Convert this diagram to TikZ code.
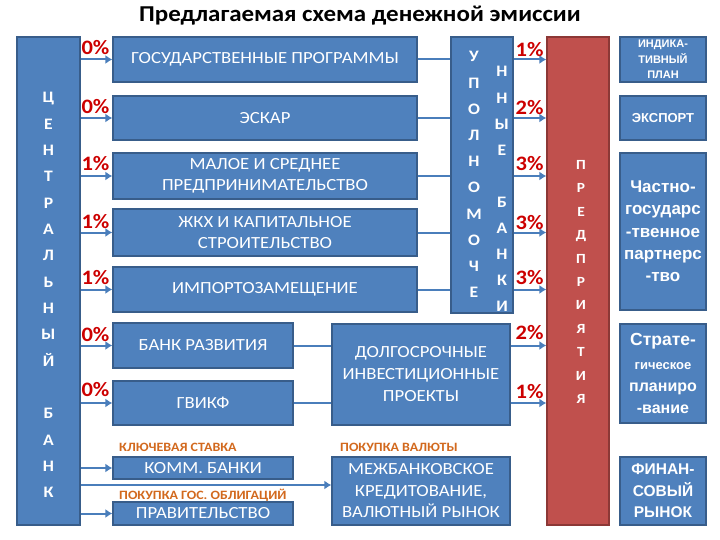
\documentclass[tikz,border=0pt]{standalone}
\usepackage{fontspec}
\setmainfont{Carlito}[FakeStretch=1.1]
\newfontfamily\arialfont{Liberation Sans}
\usetikzlibrary{arrows.meta}
\definecolor{boxblue}{HTML}{4F81BD}
\definecolor{boxborder}{HTML}{385D8A}
\definecolor{entred}{HTML}{C0504D}
\definecolor{entborder}{HTML}{8C3836}
\definecolor{arrowblue}{HTML}{4A7EBB}
\definecolor{pctred}{HTML}{CC0000}
\definecolor{tagorange}{HTML}{D2691E}
\tikzset{
  bluebox/.style={draw=boxborder, fill=boxblue, line width=1.2pt, inner sep=0pt,
    text=white, align=center, font=\fontsize{17}{21}\selectfont},
  rightbox/.style={bluebox, font=\arialfont\bfseries\fontsize{17}{22}\selectfont},
  redbox/.style={draw=entborder, fill=entred, line width=1.2pt, inner sep=0pt},
  letter/.style={text=white, font=\bfseries\fontsize{16}{16}\selectfont, inner sep=0pt, anchor=base},
  redletter/.style={text=white, font=\bfseries\fontsize{14}{14}\selectfont, inner sep=0pt, anchor=base},
  pct/.style={text=pctred, font=\bfseries\fontsize{20.5}{20.5}\selectfont, inner sep=0pt},
  tag/.style={text=tagorange, font=\bfseries\fontsize{12.7}{12.7}\selectfont, inner sep=0pt, anchor=west},
  flow/.style={draw=arrowblue, line width=2pt, -{Latex[length=7pt,width=9pt]}},
  link/.style={draw=arrowblue, line width=2pt}
}
\begin{document}
\begin{tikzpicture}[x=1pt, y=-1pt]
\useasboundingbox (0,0) rectangle (720,540);
% title
\node[font=\bfseries\fontsize{22.7}{22.7}\selectfont, anchor=base, inner sep=0pt] (title) at (360,22) {Предлагаемая схема денежной эмиссии};
% central bank
\node[bluebox, minimum width=63pt, minimum height=488pt] (cb) at (48.5,281) {};
\foreach \c [count=\i] in {Ц,Е,Н,Т,Р,А,Л,Ь,Н,Ы,Й}
  \node[letter] (cbl\i) at (48.5,{98+(\i-1)*26.33+5}) {\c};
\foreach \c [count=\i from 13] in {Б,А,Н,К}
  \node[letter] (cbl\i) at (48.5,{98+(\i-1)*26.33+5}) {\c};
% middle boxes
\node[bluebox, minimum width=304pt, minimum height=45pt] (gp) at (265,59.5) {ГОСУДАРСТВЕННЫЕ ПРОГРАММЫ};
\node[bluebox, minimum width=304pt, minimum height=44pt] (esk) at (265,118) {ЭСКАР};
\node[bluebox, minimum width=304pt, minimum height=46pt] (msp) at (265,176) {МАЛОЕ И СРЕДНЕЕ\\ПРЕДПРИНИМАТЕЛЬСТВО};
\node[bluebox, minimum width=304pt, minimum height=47pt] (zhkh) at (265,232.5) {ЖКХ И КАПИТАЛЬНОЕ\\СТРОИТЕЛЬСТВО};
\node[bluebox, minimum width=304pt, minimum height=45pt] (imp) at (265,289.5) {ИМПОРТОЗАМЕЩЕНИЕ};
\node[bluebox, minimum width=180pt, minimum height=45pt] (br) at (203,345.5) {БАНК РАЗВИТИЯ};
\node[bluebox, minimum width=180pt, minimum height=44pt] (gv) at (203,403) {ГВИКФ};
\node[bluebox, minimum width=180pt, minimum height=22pt] (komm) at (203,468) {КОММ. БАНКИ};
\node[bluebox, minimum width=180pt, minimum height=23pt] (prav) at (203,513.5) {ПРАВИТЕЛЬСТВО};
\node[tag] (t1) at (119,447) {КЛЮЧЕВАЯ СТАВКА};
\node[tag] (t2) at (119,495) {ПОКУПКА ГОС. ОБЛИГАЦИЙ};
\node[tag] (t3) at (340,447) {ПОКУПКА ВАЛЮТЫ};
% authorised banks
\node[bluebox, minimum width=62pt, minimum height=276pt] (up) at (482,175) {};
\foreach \c [count=\i] in {У,П,О,Л,Н,О,М,О,Ч,Е}
  \node[letter] (upl\i) at (474,{57+(\i-1)*26.2+5}) {\c};
\foreach \c [count=\i] in {Н,Н,Ы,Е}
  \node[letter] (upr\i) at (502,{72+(\i-1)*26.1+5}) {\c};
\foreach \c [count=\i from 6] in {Б,А,Н,К,И}
  \node[letter] (upr\i) at (502,{72+(\i-1)*26.1+5}) {\c};
% long-term projects and interbank
\node[bluebox, minimum width=178pt, minimum height=101pt, font=\fontsize{17}{22}\selectfont] (dolg) at (421,374.5) {ДОЛГОСРОЧНЫЕ\\ИНВЕСТИЦИОННЫЕ\\ПРОЕКТЫ};
\node[bluebox, minimum width=178pt, minimum height=68pt, font=\fontsize{17}{21.5}\selectfont] (mezh) at (421,491) {МЕЖБАНКОВСКОЕ\\КРЕДИТОВАНИЕ,\\ВАЛЮТНЫЙ РЫНОК};
% enterprises
\node[redbox, minimum width=62pt, minimum height=488pt] (ent) at (578,281) {};
\foreach \c [count=\i] in {П,Р,Е,Д,П,Р,И,Я,Т,И,Я}
  \node[redletter] (entl\i) at (581,{165+(\i-1)*23.4+4.5}) {\c};
% right column
\node[rightbox, minimum width=86pt, minimum height=45pt, font=\arialfont\bfseries\fontsize{11}{15.5}\selectfont] (ind) at (663,59.5) {ИНДИКА-\\ТИВНЫЙ\\ПЛАН};
\node[rightbox, minimum width=86pt, minimum height=44pt, font=\arialfont\bfseries\fontsize{13}{15}\selectfont] (exp) at (663,118) {ЭКСПОРТ};
\node[rightbox, minimum width=86pt, minimum height=157pt, font=\arialfont\bfseries\fontsize{17}{22.3}\selectfont] (chp) at (663,231.5) {Частно-\\государс\\-твенное\\партнерс\\-тво};
\node[rightbox, minimum width=86pt, minimum height=99pt] (str) at (663,373.5) {{\fontsize{17.5}{20}\selectfont Страте-}\\[2pt]{\fontsize{13}{20}\selectfont гическое}\\{\fontsize{16}{20}\selectfont планиро}\\{\fontsize{16}{20}\selectfont -вание}};
\node[rightbox, minimum width=86pt, minimum height=68pt, font=\arialfont\bfseries\fontsize{15.5}{21.5}\selectfont] (fin) at (663,491) {ФИНАН-\\СОВЫЙ\\РЫНОК};
% connectors from central bank
\foreach \b in {gp,esk,msp,zhkh,imp,br,gv,komm,prav}
  \draw[flow] (cb.east |- \b) -- (\b.west);
\coordinate (mzrow) at (0,485);
\draw[flow] (cb.east |- mzrow) -- (mezh.west |- mzrow);
% to authorised banks and to enterprises
\foreach \b in {gp,esk,msp,zhkh,imp} {
  \draw[link] (\b.east) -- (\b.east -| up.west);
  \draw[flow] (up.east |- \b) -- (ent.west |- \b);
}
\foreach \b in {br,gv} {
  \draw[link] (\b.east) -- (\b.east -| dolg.west);
  \draw[flow] (dolg.east |- \b) -- (ent.west |- \b);
}
% percentages
\node[pct] (pl1) at (95.5,48) {0\%};
\node[pct] (pl2) at (95.5,107) {0\%};
\node[pct] (pl3) at (95.5,164) {1\%};
\node[pct] (pl4) at (95.5,221.5) {1\%};
\node[pct] (pl5) at (95.5,278) {1\%};
\node[pct] (pl6) at (95.5,335) {0\%};
\node[pct] (pl7) at (95.5,390) {0\%};
\node[pct] (pr1) at (529.5,49.5) {1\%};
\node[pct] (pr2) at (529.5,108) {2\%};
\node[pct] (pr3) at (529.5,163.5) {3\%};
\node[pct] (pr4) at (529.5,223) {3\%};
\node[pct] (pr5) at (529.5,278) {3\%};
\node[pct] (pr6) at (529.5,333) {2\%};
\node[pct] (pr7) at (529.5,391.5) {1\%};
\end{tikzpicture}
\end{document}
